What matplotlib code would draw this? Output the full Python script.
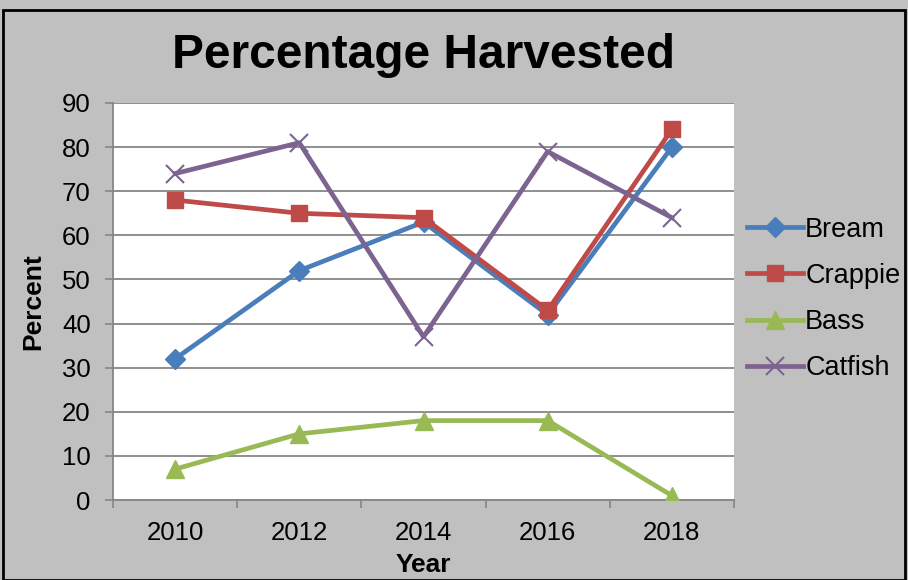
import numpy as np
import matplotlib.pyplot as plt
from matplotlib.patches import Rectangle

# data
years = ["2010", "2012", "2014", "2016", "2018"]
bream = [32, 52, 63, 42, 80]
crappie = [68, 65, 64, 43, 84]
bass = [7, 15, 18, 18, 1]
catfish = [74, 81, 37, 79, 64]

plt.rcParams['font.family'] = ['Liberation Sans', 'DejaVu Sans']

bg = '#c0c0c0'
fig = plt.figure(figsize=(9.08, 5.80), dpi=100, facecolor=bg)
ax = fig.add_axes([113/908, 80/580, 621/908, 397/580])
ax.set_facecolor('white')

x = np.arange(len(years))
ax.plot(x, bream, color='#4a7ebb', lw=3.4, marker='D', ms=10, label='Bream', zorder=3)
ax.plot(x, crappie, color='#be4b48', lw=3.4, marker='s', ms=12, label='Crappie', zorder=3)
ax.plot(x, bass, color='#98b954', lw=3.4, marker='^', ms=13, label='Bass', zorder=3)
ax.plot(x, catfish, color='#7d6390', lw=3.4, marker='x', ms=13, mew=1.5, label='Catfish', zorder=3)

ax.set_xlim(-0.5, len(years) - 0.5)
ax.set_ylim(0, 90)
ax.set_yticks(np.arange(0, 91, 10))
ax.set_xticks(x)
ax.set_xticklabels(years)
ax.set_xticks(np.arange(-0.5, len(years), 1), minor=True)
ax.tick_params(axis='x', which='major', length=0, labelsize=18.5, pad=15)
ax.tick_params(axis='x', which='minor', length=6, width=1.2, color='#868686', direction='out')
ax.tick_params(axis='y', length=6, width=1.2, color='#868686', direction='out', labelsize=18.5, pad=10)
ax.grid(axis='y', color='#868686', lw=1.3)
ax.set_axisbelow(True)
for s in ['top', 'right']:
    ax.spines[s].set_visible(False)
for s in ['left', 'bottom']:
    ax.spines[s].set_color('#868686')
    ax.spines[s].set_linewidth(1.3)

ax.set_xlabel('Year', fontsize=19, fontweight='bold', labelpad=6)
ax.set_ylabel('Percent', fontsize=19, fontweight='bold', labelpad=12)
fig.text(423/908, 1 - 55/580, 'Percentage Harvested', fontsize=34.5, fontweight='bold',
         ha='center', va='center')

leg = fig.legend(loc='center left', bbox_to_anchor=(747/908, 1 - 299/580), frameon=False,
                 fontsize=19.5, handlelength=2.05, handletextpad=0.1, labelspacing=0.74,
                 borderaxespad=0, borderpad=0)

fig.patches.append(Rectangle((3/908, 0), 902/908, 570/580, transform=fig.transFigure,
                             fill=False, edgecolor='black', lw=2))

fig.savefig('out.png', dpi=100, facecolor=bg)
